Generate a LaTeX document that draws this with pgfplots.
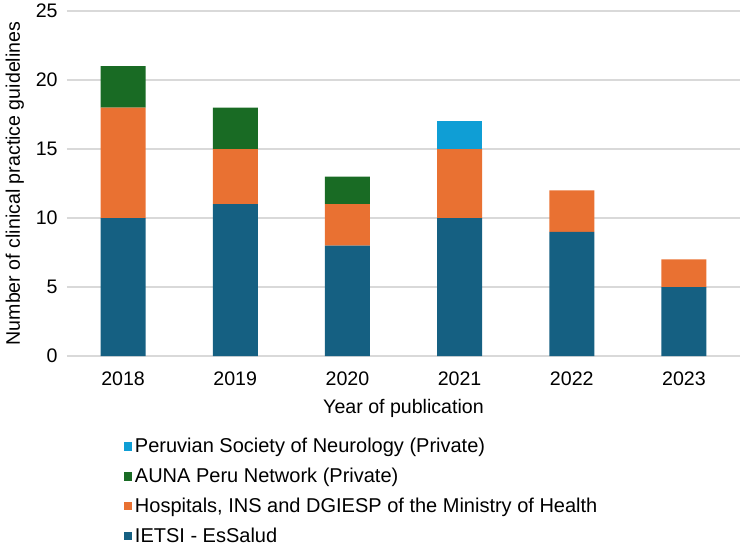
\documentclass[border=0pt]{standalone}
\usepackage{pgfplots}
\pgfplotsset{compat=1.18}
\usepackage{fontspec}
\setmainfont{Liberation Sans}
\definecolor{ietsi}{HTML}{156082}
\definecolor{minsa}{HTML}{E97132}
\definecolor{auna}{HTML}{196B24}
\definecolor{spn}{HTML}{0F9ED5}
\definecolor{gridgray}{HTML}{D9D9D9}
\begin{document}
\begin{tikzpicture}
\useasboundingbox (0,0) rectangle (558.75pt,412.5pt);
\begin{axis}[
  at={(50.25pt,145.5pt)}, anchor=south west,
  width=504.75pt, height=258.75pt, scale only axis,
  ybar stacked, bar width=33.75pt,
  xmin=-0.5, xmax=5.5, ymin=0, ymax=25,
  xtick=data, xticklabels={2018,2019,2020,2021,2022,2023},
  ytick={0,5,...,25},
  ymajorgrids, grid style={gridgray, line width=0.8pt},
  axis x line*=bottom, axis y line*=left,
  x axis line style={gridgray, line width=0.8pt, -},
  y axis line style={draw=none},
  major tick length=0pt,
  tick label style={font=\fontsize{14.7}{17}\selectfont},
  /pgf/number format/assume math mode=true,
  xticklabel style={yshift=-8.5pt},
  yticklabel style={xshift=-3.5pt},
  xlabel={Year of publication},
  ylabel={Number of clinical practice guidelines},
  label style={font=\fontsize{14.7}{17}\selectfont},
  xlabel style={yshift=-3pt},
  ylabel style={yshift=2pt},
  legend style={at={(0.078,-0.222)}, anchor=north west, draw=none,
    font=\fontsize{15}{18}\selectfont, row sep=6pt,
    /tikz/every even column/.append style={column sep=5.5pt}},
  legend cell align=left,
  reverse legend,
  legend image code/.code={\fill[#1] (0pt,-3.2pt) rectangle (6.4pt,3.2pt);},
]
\addplot[fill=ietsi, draw=none] coordinates {(0,10) (1,11) (2,8) (3,10) (4,9) (5,5)};
\addlegendentry{IETSI - EsSalud}
\addplot[fill=minsa, draw=none] coordinates {(0,8) (1,4) (2,3) (3,5) (4,3) (5,2)};
\addlegendentry{Hospitals, INS and DGIESP of the Ministry of Health}
\addplot[fill=auna, draw=none] coordinates {(0,3) (1,3) (2,2) (3,0) (4,0) (5,0)};
\addlegendentry{AUNA Peru Network (Private)}
\addplot[fill=spn, draw=none] coordinates {(0,0) (1,0) (2,0) (3,2) (4,0) (5,0)};
\addlegendentry{Peruvian Society of Neurology (Private)}
\end{axis}
\end{tikzpicture}
\end{document}
